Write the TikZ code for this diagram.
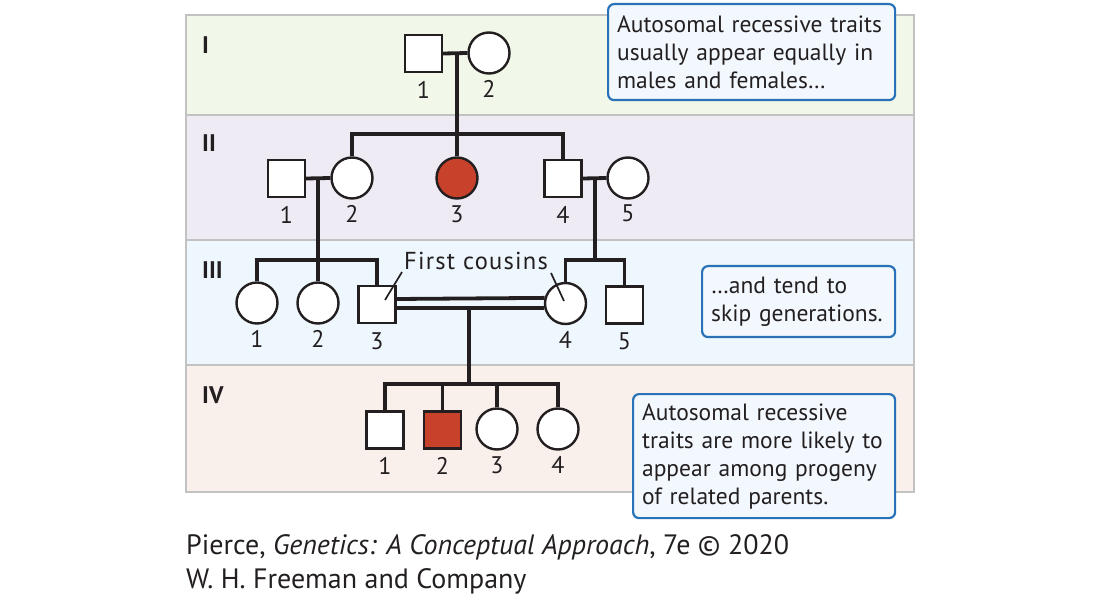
\documentclass[tikz,border=0pt]{standalone}
\usepackage{fontspec}
\setmainfont{PT Sans}
\usetikzlibrary{positioning}

\definecolor{bandI}{HTML}{F1F7E9}
\definecolor{bandII}{HTML}{EFEBF5}
\definecolor{bandIII}{HTML}{EEF7FD}
\definecolor{bandIV}{HTML}{F9F0EC}
\definecolor{bandline}{HTML}{C2C2C2}
\definecolor{pedline}{HTML}{231F20}
\definecolor{trait}{HTML}{C8412B}
\definecolor{noteline}{HTML}{2A72B8}
\definecolor{notefill}{HTML}{F2F8FD}

\tikzset{
  band/.style={draw=bandline,line width=2pt},
  male/.style={draw=pedline,line width=2.4pt,fill=white,minimum size=37pt,inner sep=0pt},
  female/.style={male,circle,minimum size=41pt},
  affected/.style={fill=trait},
  numtext/.style={font=\fontsize{24}{24}\selectfont,inner sep=0pt,text=pedline},
  gen/.style={font=\bfseries\fontsize{24}{24}\selectfont,anchor=west,inner sep=0pt,text=pedline},
  line/.style={draw=pedline,line width=3.8pt},
  pointer/.style={draw=pedline,line width=1.7pt},
  note/.style={draw=noteline,fill=notefill,line width=2.2pt,rounded corners=6pt,
    anchor=north west,align=left,inner xsep=9pt,inner ysep=4pt,
    font=\fontsize{23.5}{28}\selectfont,text=pedline}
}

\begin{document}
\begin{tikzpicture}[x=1pt,y=1pt]
\useasboundingbox (0,0) rectangle (1100,603);

% generation bands
\draw[band,fill=bandI] (186,488) rectangle (914,588);
\draw[band,fill=bandII] (186,363) rectangle (914,488);
\draw[band,fill=bandIII] (186,238) rectangle (914,363);
\draw[band,fill=bandIV] (186,111) rectangle (914,238);

\node[gen] (gI) at (202,558) {I};
\node[gen] (gII) at (202,460) {II};
\node[gen] (gIII) at (202,333) {III};
\node[gen] (gIV) at (202,208) {IV};

% generation I
\node[male] (I1) at (423.5,549.5) {};
\node[female] (I2) at (489,550) {};
\node[numtext,below=8pt of I1] (nI1) {1};
\node[numtext,below=6pt of I2] (nI2) {2};

% generation II
\node[male] (II1) at (286.5,424.5) {};
\node[female] (II2) at (352,425) {};
\node[female,affected] (II3) at (457,425) {};
\node[male] (II4) at (563,424.5) {};
\node[female] (II5) at (628,425) {};
\node[numtext,below=8pt of II1] (nII1) {1};
\node[numtext,below=6pt of II2] (nII2) {2};
\node[numtext,below=6pt of II3] (nII3) {3};
\node[numtext,below=8pt of II4] (nII4) {4};
\node[numtext,below=5pt of II5] (nII5) {5};

% generation III
\node[female] (III1) at (257,300) {};
\node[female] (III2) at (318,300) {};
\node[male] (III3) at (377,298.5) {};
\node[female] (III4) at (565.5,299.5) {};
\node[male] (III5) at (624.5,298) {};
\node[numtext,below=6pt of III1] (nIII1) {1};
\node[numtext,below=6pt of III2] (nIII2) {2};
\node[numtext,below=8pt of III3] (nIII3) {3};
\node[numtext,below=6pt of III4] (nIII4) {4};
\node[numtext,below=8pt of III5] (nIII5) {5};

% generation IV
\node[male] (IV1) at (385,173) {};
\node[male,affected] (IV2) at (442.5,173) {};
\node[female] (IV3) at (497,174) {};
\node[female] (IV4) at (558,174) {};
\node[numtext,below=8pt of IV1] (nIV1) {1};
\node[numtext,below=8pt of IV2] (nIV2) {2};
\node[numtext,below=6pt of IV3] (nIV3) {3};
\node[numtext,below=6pt of IV4] (nIV4) {4};

% matings and sibships
\coordinate (mI) at (457,550);
\coordinate (sII) at (457,469);
\coordinate (mII1) at (318,425);
\coordinate (sIIIa) at (318,343);
\coordinate (mII4) at (595,425);
\coordinate (sIIIb) at (595,343);
\coordinate (mIII) at (469,295);
\coordinate (sIV) at (469,219);

\draw[line] (I1.east) -- (I2.west);
\draw[line] (mI) -- (II3.north);
\draw[line] (II2.north) |- (sII) -| (II4.north);

\draw[line] (II1.east) -- (II2.west);
\draw[line] (mII1) -- (III2.north);
\draw[line] (III1.north) |- (sIIIa) -| (III3.north);

\draw[line] (II4.east) -- (II5.west);
\draw[line] (mII4) -- (sIIIb);
\draw[line] (III4.north) |- (sIIIb) -| (III5.north);

\draw[line] ([yshift=5.5pt]III3.east) -- (III4.165);
\draw[line] ([yshift=-3.5pt]III3.east) -- (III4.192);
\draw[line] (mIII) -- (sIV);
\draw[line] (IV1.north) |- (sIV) -| (IV4.north);
\draw[line] (IV2.north) -- (IV2.north |- sIV);
\draw[line] (IV3.north) -- (IV3.north |- sIV);

% first cousins
\node[font=\fontsize{24.5}{24}\selectfont\addfontfeature{LetterSpace=5},text=pedline] (fc) at (476,342) {First cousins};
\coordinate (fcA) at (385,303);
\coordinate (fcB) at (564,302);
\draw[pointer] (402,331) -- (fcA);
\draw[pointer] (551,330) -- (fcB);

% notes
\node[note,text width=269pt,minimum height=96pt] (noteI) at (607,600)
  {Autosomal recessive traits\\usually appear equally in\\males and females\dots};
\node[note,text width=175pt,minimum height=71pt] (noteIII) at (701,338)
  {\dots and tend to\\skip generations.};
\node[note,text width=244pt,minimum height=124pt] (noteIV) at (632,210)
  {Autosomal recessive\\traits are more likely to\\appear among progeny\\of related parents.};

% source
\node[anchor=north west,align=left,inner sep=0pt,font=\fontsize{28}{34}\selectfont,text=pedline] (src) at (186,69)
  {Pierce, \textit{Genetics: A Conceptual Approach}, 7e \textcopyright{} 2020\\W. H. Freeman and Company};
\end{tikzpicture}
\end{document}
